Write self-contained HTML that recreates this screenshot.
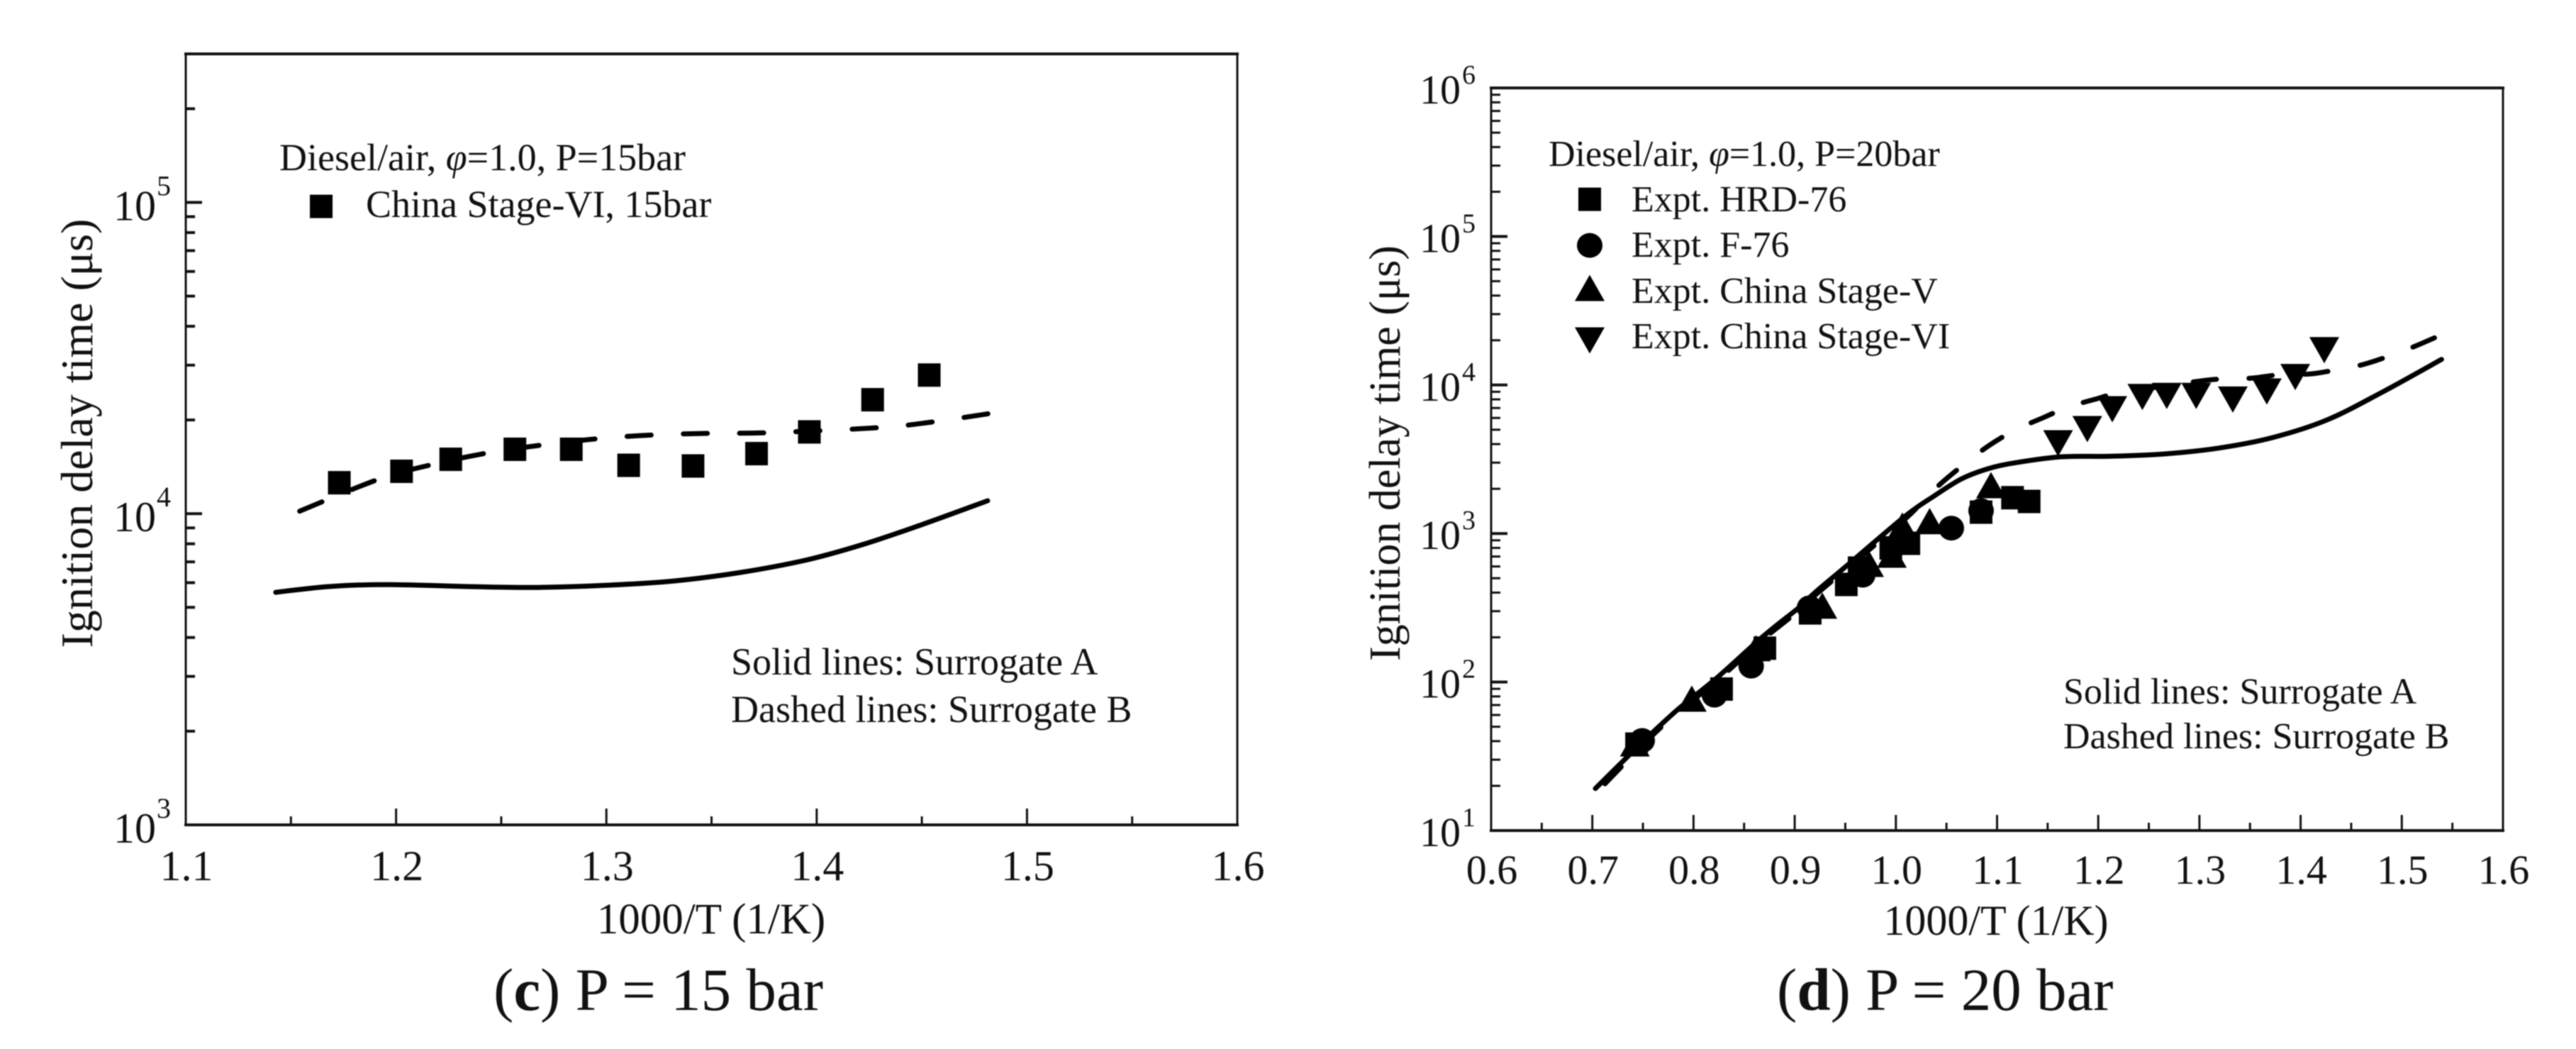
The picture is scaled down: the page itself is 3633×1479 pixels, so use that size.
<!DOCTYPE html>
<html lang="en">
<head>
<meta charset="utf-8">
<title>Ignition delay time charts</title>
<style>
html,body{margin:0;padding:0;background:#fff;}
svg{display:block;filter:blur(0.7px);}
text{font-family:"Liberation Serif",serif;fill:#111;}
</style>
</head>
<body>
<svg id="figure" xmlns="http://www.w3.org/2000/svg" width="3633" height="1479" viewBox="0 0 3633 1479">
  <rect x="0" y="0" width="3633" height="1479" fill="#fff"/>
  <g id="panel-c"></g>
  <g id="panel-d"></g>

  <text transform="translate(130 611) rotate(-90)" text-anchor="middle" font-size="64">Ignition delay time (μs)</text>
  <text x="1003" y="1316" text-anchor="middle" font-size="61">1000/T (1/K)</text>
  <text x="394" y="240" font-size="54">Diesel/air, <tspan font-style="italic">φ</tspan>=1.0, P=15bar</text>
  <text x="516" y="306" font-size="54">China Stage-VI, 15bar</text>
  <text x="1031" y="951" font-size="54">Solid lines: Surrogate A</text>
  <text x="1031" y="1018" font-size="54">Dashed lines: Surrogate B</text>
  <text x="696" y="1424" font-size="85">(<tspan font-weight="bold">c</tspan>) P = 15 bar</text>

  <text transform="translate(1974 639) rotate(-90)" text-anchor="middle" font-size="62">Ignition delay time (μs)</text>
  <text x="2815" y="1318" text-anchor="middle" font-size="60">1000/T (1/K)</text>
  <text x="2184" y="234" font-size="52">Diesel/air, <tspan font-style="italic">φ</tspan>=1.0, P=20bar</text>
  <text x="2301" y="298" font-size="52">Expt. HRD-76</text>
  <text x="2301" y="362" font-size="52">Expt. F-76</text>
  <text x="2301" y="427" font-size="52">Expt. China Stage-V</text>
  <text x="2301" y="491" font-size="52">Expt. China Stage-VI</text>
  <text x="2910" y="992" font-size="52">Solid lines: Surrogate A</text>
  <text x="2910" y="1055" font-size="52">Dashed lines: Surrogate B</text>
  <text x="2506" y="1424" font-size="85">(<tspan font-weight="bold">d</tspan>) P = 20 bar</text>
</svg>

<script>
// ---- Panel (c) data ----
const cXTickLabels = ['1.1', '1.2', '1.3', '1.4', '1.5', '1.6'];
const cXMinorTicks = [1.15, 1.25, 1.35, 1.45, 1.55];
const cYDecades = [3, 4, 5];
const cYMinorTicks = [2000, 3000, 4000, 5000, 6000, 7000, 8000, 9000, 20000, 30000, 40000, 50000, 60000, 70000, 80000, 90000, 200000];
const cExptX = [1.173, 1.2026, 1.226, 1.2565, 1.2833, 1.3106, 1.3412, 1.3714, 1.3965, 1.4266, 1.4535];
const cExptY = [12570, 13680, 14950, 16100, 16100, 14300, 14230, 15590, 18310, 23230, 27880];
const cSolidX = [1.1428, 1.1681, 1.1956, 1.2308, 1.266, 1.3013, 1.3326, 1.364, 1.3952, 1.4227, 1.45, 1.4813];
const cSolidY = [5589, 5832, 5918, 5840, 5794, 5892, 6081, 6476, 7100, 7988, 9220, 11002];
const cDashX = [1.1531, 1.1914, 1.2175, 1.2446, 1.2706, 1.2979, 1.3239, 1.3498, 1.3771, 1.4291, 1.455, 1.4823];
const cDashY = [10115, 12880, 14400, 15720, 16650, 17460, 17920, 18120, 18200, 18890, 19700, 20980];

// ---- Panel (d) data ----
const dXTickLabels = ['0.6', '0.7', '0.8', '0.9', '1.0', '1.1', '1.2', '1.3', '1.4', '1.5', '1.6'];
const dXMinorTicks = [0.65, 0.75, 0.85, 0.95, 1.05, 1.15, 1.25, 1.35, 1.45, 1.55];
const dYDecades = [1, 2, 3, 4, 5, 6];
const dYMinorMultipliers = [2, 3, 4, 5, 6, 7, 8, 9];
const dHrdX = [0.7437, 0.8277, 0.8705, 0.9153, 0.951, 0.9637, 0.995, 1.0128, 1.0842, 1.1153, 1.1317];
const dHrdY = [38.2, 89.7, 169, 292, 454, 585, 800, 859, 1393, 1742, 1644];
const dF76X = [0.7493, 0.8207, 0.857, 0.9146, 0.9672, 1.0548, 1.0842];
const dF76Y = [40.4, 81.6, 128, 316, 524, 1087, 1426];
const dStageVX = [0.742, 0.7983, 0.8617, 0.9273, 0.9735, 0.996, 1.0064, 1.0334, 1.094];
const dStageVY = [38.6, 77.3, 169, 327, 625, 721, 1131, 1212, 2117];
const dStageVIX = [1.1603, 1.1892, 1.2139, 1.2436, 1.2677, 1.2968, 1.333, 1.3666, 1.3947, 1.4234];
const dStageVIY = [4050, 5045, 6864, 8305, 8433, 8433, 7980, 9036, 11300, 17160];
const dSolidX = [0.703, 0.7521, 0.7848, 0.8221, 0.8689, 0.9039, 0.9203, 0.9506, 1.009, 1.0371, 1.0651, 1.0931, 1.1212, 1.1639, 1.2121, 1.2657, 1.3194, 1.3729, 1.4267, 1.4802, 1.5393];
const dSolidY = [19.2, 40.9, 65.6, 105.2, 203, 316, 402, 600, 1305, 1775, 2337, 2757, 3020, 3286, 3311, 3436, 3763, 4436, 5842, 8913, 14870];
const dDashX = [0.703, 0.7521, 0.7848, 0.8221, 0.8689, 0.9039, 0.9203, 0.9506, 1.009, 1.0394, 1.0651, 1.0919, 1.1184, 1.1449, 1.1704, 1.1974, 1.2242, 1.3034, 1.3288, 1.353, 1.3814, 1.4094, 1.4346, 1.4616, 1.4879, 1.5138, 1.5407];
const dDashY = [17.7, 39.1, 62.8, 100.7, 194, 302, 385, 574, 1249, 2018, 2839, 3905, 4990, 5998, 7096, 8037, 8913, 10690, 10980, 11140, 11770, 11860, 12620, 13720, 15700, 18320, 22030];

const NS = 'http://www.w3.org/2000/svg';

// Axis functions
function cx(v) { return 262 + (v - 1.1) * (1745 - 262) / 0.5; }
function cy(v) { return 1163 - (Math.log10(v) - 3) * 438.8; }
function dx(v) { return 2103 + (v - 0.6) * (3530 - 2103) / 1.0; }
function dy(v) { return 1171 - (Math.log10(v) - 1) * 209.4; }

function smoothPath(xs, ys, fx, fy) {
  const p = xs.map((x, i) => [fx(x), fy(ys[i])]);
  let d = 'M' + p[0][0].toFixed(1) + ' ' + p[0][1].toFixed(1);
  for (let i = 0; i < p.length - 1; i++) {
    const p0 = p[Math.max(i - 1, 0)], p1 = p[i], p2 = p[i + 1], p3 = p[Math.min(i + 2, p.length - 1)];
    const c1x = p1[0] + (p2[0] - p0[0]) / 6, c1y = p1[1] + (p2[1] - p0[1]) / 6;
    const c2x = p2[0] - (p3[0] - p1[0]) / 6, c2y = p2[1] - (p3[1] - p1[1]) / 6;
    d += 'C' + c1x.toFixed(1) + ' ' + c1y.toFixed(1) + ' ' + c2x.toFixed(1) + ' ' + c2y.toFixed(1) + ' ' + p2[0].toFixed(1) + ' ' + p2[1].toFixed(1);
  }
  return d;
}

function drawLine(parent, x1, y1, x2, y2, w, name) {
  const el = document.createElementNS(NS, 'line');
  
  
  el.setAttribute('x1', x1);
  el.setAttribute('y1', y1);
  el.setAttribute('x2', x2);
  el.setAttribute('y2', y2);
  el.setAttribute('stroke', '#111');
  el.setAttribute('stroke-width', w);
  parent.appendChild(el);
}

function drawText(parent, x, y, size, anchor, content, name) {
  const el = document.createElementNS(NS, 'text');
  
  
  el.setAttribute('x', x);
  el.setAttribute('y', y);
  el.setAttribute('font-size', size);
  el.setAttribute('text-anchor', anchor);
  el.textContent = content;
  parent.appendChild(el);
}

function drawCurve(parent, d, dash, offset, name) {
  const el = document.createElementNS(NS, 'path');
  
  
  el.setAttribute('d', d);
  el.setAttribute('fill', 'none');
  el.setAttribute('stroke', '#000');
  el.setAttribute('stroke-width', '7');
  el.setAttribute('stroke-linecap', 'round');
  if (dash) {
    el.setAttribute('stroke-dasharray', dash);
    el.setAttribute('stroke-dashoffset', offset);
  }
  parent.appendChild(el);
}

function drawSquare(parent, px, py, name) {
  const el = document.createElementNS(NS, 'rect');
  
  
  el.setAttribute('x', px - 16);
  el.setAttribute('y', py - 16.5);
  el.setAttribute('width', 32);
  el.setAttribute('height', 33);
  el.setAttribute('fill', '#000');
  parent.appendChild(el);
}

function drawCircle(parent, px, py, name) {
  const el = document.createElementNS(NS, 'ellipse');
  
  
  el.setAttribute('cx', px);
  el.setAttribute('cy', py);
  el.setAttribute('rx', 18);
  el.setAttribute('ry', 17.5);
  el.setAttribute('fill', '#000');
  parent.appendChild(el);
}

function drawTriangle(parent, px, py, dir, name) {
  const el = document.createElementNS(NS, 'polygon');
  
  
  const h = 18.5 * dir;
  el.setAttribute('points', (px - 21) + ',' + (py + h) + ' ' + (px + 21) + ',' + (py + h) + ' ' + px + ',' + (py - h));
  el.setAttribute('fill', '#000');
  parent.appendChild(el);
}

// ---- Panel (c) ----
const gc = document.getElementById('panel-c');
drawLine(gc, 260, 76, 1747, 76, 4, 'panel-c-frame-top');
drawLine(gc, 260, 1163, 1747, 1163, 4, 'panel-c-frame-bottom');
drawLine(gc, 262, 75, 262, 1164, 3, 'panel-c-frame-left');
drawLine(gc, 1745, 75, 1745, 1164, 3, 'panel-c-frame-right');

cXTickLabels.forEach(function (t) {
  const v = parseFloat(t);
  drawLine(gc, cx(v), 1163, cx(v), 1140, 3, 'panel-c-x-major-tick');
  drawText(gc, cx(v) + 1, 1241, 60, 'middle', t, 'panel-c-x-tick-label');
});
cXMinorTicks.forEach(function (v) {
  drawLine(gc, cx(v), 1163, cx(v), 1151, 3, 'panel-c-x-minor-tick');
});
cYDecades.forEach(function (e) {
  const y = cy(Math.pow(10, e));
  if (e > 3) { drawLine(gc, 262, y, 285, y, 4, 'panel-c-y-major-tick'); }
  drawText(gc, 220, y + 25, 60, 'end', '10', 'panel-c-y-tick-label');
  drawText(gc, 221, y - 10, 40, 'start', String(e), 'panel-c-y-tick-exponent');
});
cYMinorTicks.forEach(function (v) {
  drawLine(gc, 262, cy(v), 275, cy(v), 4, 'panel-c-y-minor-tick');
});

drawCurve(gc, smoothPath(cSolidX, cSolidY, cx, cy), null, 0, 'panel-c-surrogate-a-line');
drawCurve(gc, smoothPath(cDashX, cDashY, cx, cy), '34 45.4', -3.5, 'panel-c-surrogate-b-line');
cExptX.forEach(function (x, i) {
  drawSquare(gc, cx(x), cy(cExptY[i]), 'panel-c-china-stage-vi-point');
});
drawSquare(gc, 453, 291, 'panel-c-legend-square');

// ---- Panel (d) ----
const gd = document.getElementById('panel-d');
drawLine(gd, 2101, 124, 3532, 124, 4, 'panel-d-frame-top');
drawLine(gd, 2101, 1171, 3532, 1171, 4, 'panel-d-frame-bottom');
drawLine(gd, 2103, 123, 2103, 1172, 3, 'panel-d-frame-left');
drawLine(gd, 3530, 123, 3530, 1172, 3, 'panel-d-frame-right');

dXTickLabels.forEach(function (t) {
  const v = parseFloat(t);
  drawLine(gd, dx(v), 1171, dx(v), 1149, 3, 'panel-d-x-major-tick');
  drawText(gd, dx(v) + 1, 1246, 58, 'middle', t, 'panel-d-x-tick-label');
});
dXMinorTicks.forEach(function (v) {
  drawLine(gd, dx(v), 1171, dx(v), 1160, 3, 'panel-d-x-minor-tick');
});
dYDecades.forEach(function (e) {
  const y = dy(Math.pow(10, e));
  if (e > 1 && e < 6) { drawLine(gd, 2103, y, 2126, y, 4, 'panel-d-y-major-tick'); }
  drawText(gd, 2060, y + 22, 58, 'end', '10', 'panel-d-y-tick-label');
  drawText(gd, 2062, y - 6, 38, 'start', String(e), 'panel-d-y-tick-exponent');
  if (e < 6) {
    dYMinorMultipliers.forEach(function (m) {
      const my = dy(m * Math.pow(10, e));
      drawLine(gd, 2103, my, 2116, my, 3, 'panel-d-y-minor-tick');
    });
  }
});

drawCurve(gd, smoothPath(dSolidX, dSolidY, dx, dy), null, 0, 'panel-d-surrogate-a-line');
drawCurve(gd, smoothPath(dDashX, dDashY, dx, dy), '33 46', -19.5, 'panel-d-surrogate-b-line');
dHrdX.forEach(function (x, i) {
  drawSquare(gd, dx(x), dy(dHrdY[i]), 'panel-d-hrd76-point');
});
dF76X.forEach(function (x, i) {
  drawCircle(gd, dx(x), dy(dF76Y[i]), 'panel-d-f76-point');
});
dStageVX.forEach(function (x, i) {
  drawTriangle(gd, dx(x), dy(dStageVY[i]), 1, 'panel-d-stage-v-point');
});
dStageVIX.forEach(function (x, i) {
  drawTriangle(gd, dx(x), dy(dStageVIY[i]), -1, 'panel-d-stage-vi-point');
});
drawSquare(gd, 2242, 281, 'panel-d-legend-square');
drawCircle(gd, 2242, 346, 'panel-d-legend-circle');
drawTriangle(gd, 2242, 406, 1, 'panel-d-legend-triangle-up');
drawTriangle(gd, 2242, 480, -1, 'panel-d-legend-triangle-down');
</script>
</body>
</html>
